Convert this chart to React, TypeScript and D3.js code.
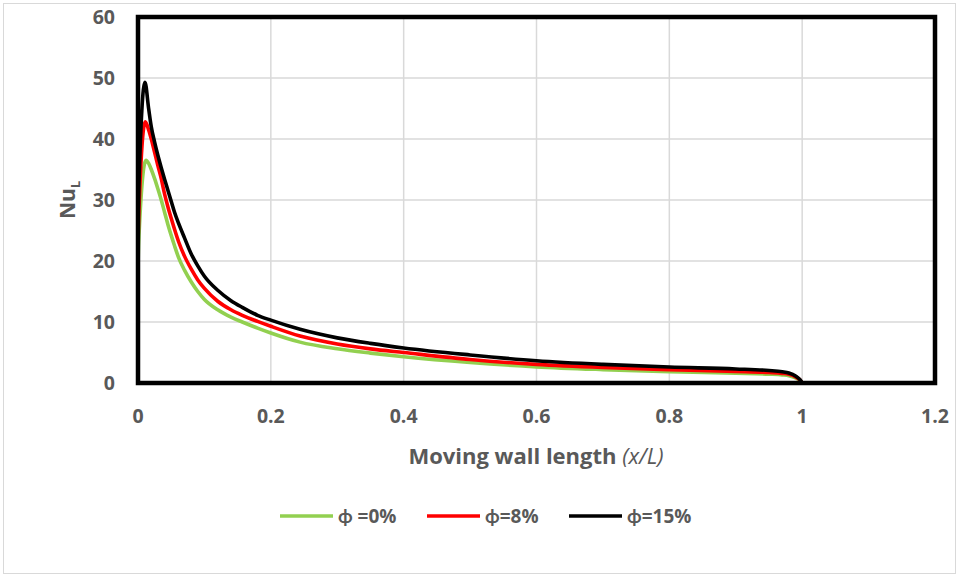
import React from 'react';
import * as d3 from 'd3';

// x/L positions and Nu_L values
const green_x = [0, 0.001, 0.012, 0.016, 0.02, 0.025, 0.03, 0.035, 0.04, 0.045, 0.05, 0.055, 0.061, 0.07, 0.08, 0.09, 0.1, 0.12, 0.14, 0.157, 0.18, 0.2, 0.244, 0.3, 0.35, 0.4, 0.5, 0.6, 0.7, 0.8, 0.9, 0.95, 0.97, 0.98, 0.99, 0.997, 1.0];
const green_y = [19, 23, 36.5, 36.0, 35.0, 33.5, 31.8, 30.0, 28.0, 26.0, 24.2, 22.5, 20.6, 18.5, 16.6, 15.0, 13.7, 12.0, 10.8, 10.0, 9.0, 8.2, 6.7, 5.6, 4.9, 4.3, 3.35, 2.65, 2.2, 1.85, 1.6, 1.45, 1.33, 1.2, 0.85, 0.4, 0];

const red_x = [0, 0.001, 0.011, 0.016, 0.02, 0.025, 0.03, 0.035, 0.04, 0.045, 0.05, 0.055, 0.061, 0.07, 0.08, 0.09, 0.1, 0.12, 0.14, 0.157, 0.18, 0.2, 0.244, 0.3, 0.35, 0.4, 0.5, 0.6, 0.7, 0.8, 0.9, 0.95, 0.97, 0.98, 0.99, 0.997, 1.0];
const red_y = [23, 27, 42.8, 41.5, 40, 37.8, 35.6, 33.5, 31, 28.9, 27, 25.2, 23.2, 20.8, 18.7, 16.9, 15.5, 13.4, 12.0, 11.1, 10.1, 9.3, 7.7, 6.4, 5.6, 5.0, 3.85, 3.05, 2.55, 2.2, 1.9, 1.72, 1.58, 1.43, 1.0, 0.45, 0];

const black_x = [0, 0.001, 0.0105, 0.016, 0.02, 0.025, 0.03, 0.035, 0.04, 0.045, 0.05, 0.055, 0.061, 0.07, 0.08, 0.09, 0.1, 0.12, 0.14, 0.157, 0.18, 0.2, 0.244, 0.3, 0.35, 0.4, 0.5, 0.6, 0.7, 0.8, 0.9, 0.95, 0.97, 0.98, 0.99, 0.997, 1.0];
const black_y = [27, 31, 49.3, 45, 42, 39.5, 37.3, 35.3, 33.4, 31.6, 29.8, 28.0, 26.2, 23.8, 21.2, 19.2, 17.5, 15.2, 13.5, 12.4, 11.1, 10.3, 8.8, 7.4, 6.5, 5.75, 4.6, 3.65, 3.05, 2.62, 2.3, 2.05, 1.85, 1.65, 1.15, 0.5, 0];

const x_ticks = [0, 0.2, 0.4, 0.6, 0.8, 1, 1.2];
const y_ticks = [0, 10, 20, 30, 40, 50, 60];

const series = [
  { name: 'ϕ =0%', color: '#92d050', xs: green_x, ys: green_y },
  { name: 'ϕ=8%', color: '#ff0000', xs: red_x, ys: red_y },
  { name: 'ϕ=15%', color: '#000000', xs: black_x, ys: black_y },
];

const legend_pos = [280, 427, 569];

const W = 959, H = 577;
const left = 138, right = 935, top = 17, bottom = 383;
const font = '"Open Sans", Lato, sans-serif';
const textColor = '#595959';

export default function App() {
  const x = d3.scaleLinear().domain([0, 1.2]).range([left, right]);
  const y = d3.scaleLinear().domain([0, 60]).range([bottom, top]);

  const line = d3.line<[number, number]>()
    .x(d => x(d[0]))
    .y(d => y(d[1]))
    .curve(d3.curveMonotoneX);

  return (
    <div style={{ position: 'absolute', left: 0, top: 0 }}>
      <svg width={W} height={H} style={{ display: 'block', background: '#fff' }}>
        <rect x={3.5} y={3.5} width={W - 7} height={H - 7} fill="#fff" stroke="#d9d9d9" strokeWidth={1} />

        {/* gridlines */}
        {y_ticks.map(t => (
          <line key={'gy' + t} x1={left} x2={right} y1={y(t)} y2={y(t)} stroke="#d9d9d9" strokeWidth={1.5} />
        ))}
        {x_ticks.map(t => (
          <line key={'gx' + t} x1={x(t)} x2={x(t)} y1={top} y2={bottom} stroke="#d9d9d9" strokeWidth={1.5} />
        ))}

        {/* series */}
        {series.map(s => (
          <path key={s.name}
            d={line(s.xs.map((v, i) => [v, s.ys[i]] as [number, number])) || ''}
            fill="none" stroke={s.color} strokeWidth={3.6} strokeLinejoin="round" />
        ))}

        {/* plot area border */}
        <rect x={left} y={top} width={right - left} height={bottom - top} fill="none" stroke="#000" strokeWidth={4.5} />

        {/* tick labels */}
        {y_ticks.map(t => (
          <text key={'ty' + t} x={115} y={y(t)} dy="0.36em" textAnchor="end"
            fontFamily={font} fontWeight="bold" fontSize={19.5} fill={textColor}>{t}</text>
        ))}
        {x_ticks.map(t => (
          <text key={'tx' + t} x={x(t)} y={423} textAnchor="middle"
            fontFamily={font} fontWeight="bold" fontSize={19.5} fill={textColor}>{t}</text>
        ))}

        {/* axis titles */}
        <text x={536} y={464} textAnchor="middle" fontFamily={font} fontSize={22} fill={textColor}>
          <tspan fontWeight="bold">Moving wall length </tspan>
          <tspan fontStyle="italic">(x/L)</tspan>
        </text>
        <text transform="translate(75,200) rotate(-90)" textAnchor="middle"
          fontFamily={font} fontWeight="bold" fontSize={21} fill={textColor}>
          Nu<tspan fontSize={13} dy={5}>L</tspan>
        </text>

        {/* legend */}
        {series.map((s, i) => (
          <g key={'lg' + s.name} transform={`translate(${legend_pos[i]},516)`}>
            <line x1={0} x2={53} y1={0} y2={0} stroke={s.color} strokeWidth={3.6} />
            <text x={58} y={0} dy="0.36em" fontFamily={font} fontWeight="bold" fontSize={19} fill={textColor}>{s.name}</text>
          </g>
        ))}
      </svg>
    </div>
  );
}
